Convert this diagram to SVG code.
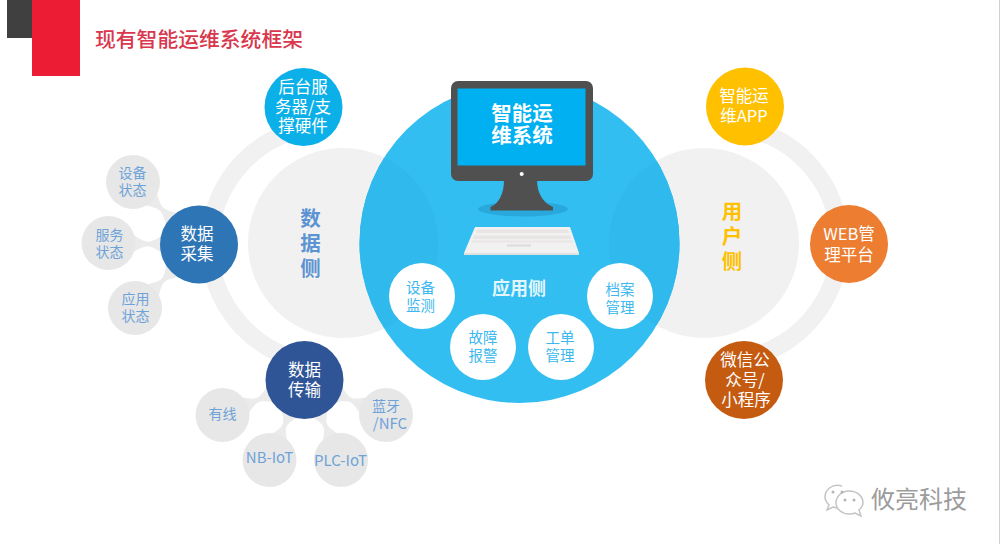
<svg xmlns="http://www.w3.org/2000/svg" width="1000" height="544" viewBox="0 0 1000 544">
<style>
text{font-family:"Noto Sans CJK SC","Liberation Sans",sans-serif;text-anchor:middle}
.big{font-size:16.5px;fill:#fff}
.small{font-size:14px;fill:#6FA3D8}
.latin{font-size:15px;fill:#6FA3D8}
.app{font-size:14.5px;fill:#3DB8EE}
.gray{fill:#E7E7E7}
.ring{fill:none;stroke:#F1F1F1;stroke-width:18}
.disc{fill:#F1F1F1}
.side{font-size:20.5px;font-weight:700}
.conn{fill:#EBEBEB}
</style>
<defs>
<clipPath id="mainClip"><circle cx="519.5" cy="243" r="160"/></clipPath>
</defs>
<rect width="1000" height="544" fill="#fff"/>
<rect x="999" y="0" width="1" height="544" fill="#D0D0D0"/>
<rect x="7" y="0" width="25" height="38" fill="#404040"/>
<rect x="32" y="0" width="48" height="76" fill="#EC1C35"/>
<text x="199" y="46.500" font-size="20.800" font-weight="500" fill="#D9374D">现有智能运维系统框架</text>

<path class="ring" d="M307.500 127.700A119 119 0 0 0 308 362"/>
<path class="ring" d="M744 128A117 117 0 0 1 744 358"/>

<g id="connectors">
<path class="conn" d="M144.200 205.100C161.600 209.300 161.600 209.300 166.700 226.600L179.100 213.600C161.600 209.300 161.600 209.300 156.600 192.100Z"/>
<path class="conn" d="M132.300 252.500C147.800 243.900 147.800 243.900 162.800 253.200L163.200 235.200C147.800 243.900 147.800 243.900 132.700 234.500Z"/>
<path class="conn" d="M158.400 297.600C162.800 280.700 162.800 280.700 179.700 276.600L167.100 263.800C162.800 280.700 162.800 280.700 145.800 284.800Z"/>
<path class="conn" d="M248.100 413.900C258 399.900 258 399.900 274.900 402.400L267.900 385.800C258 399.900 258 399.900 241.100 397.300Z"/>
<path class="conn" d="M287.300 441.600C284.600 425.500 284.600 425.500 298.300 416.600L281.900 409.400C284.600 425.500 284.600 425.500 270.900 434.400Z"/>
<path class="conn" d="M339.200 434.500C325.300 425.500 325.300 425.500 327.700 409.100L311.300 416.500C325.300 425.500 325.300 425.500 322.800 441.900Z"/>
<path class="conn" d="M367.500 397.200C350.800 399.900 350.800 399.900 341.200 385.900L334 402.500C350.800 399.900 350.800 399.900 360.300 413.800Z"/>
</g>

<g id="data-side">
<circle class="disc" cx="343" cy="243" r="95"/>
<text class="side" x="310.500" y="225.500" fill="#5B93D3">数</text>
<text class="side" x="310.500" y="250.500" fill="#5B93D3">据</text>
<text class="side" x="310.500" y="275.500" fill="#5B93D3">侧</text>
</g>
<g id="user-side">
<circle class="disc" cx="704" cy="243" r="95"/>
<text class="side" x="732" y="218.500" fill="#FFC000">用</text>
<text class="side" x="732" y="243.500" fill="#FFC000">户</text>
<text class="side" x="732" y="268.500" fill="#FFC000">侧</text>
</g>

<g id="main-circle">
<circle cx="519.500" cy="243" r="160" fill="#33BEF2"/>
<g clip-path="url(#mainClip)">
<circle cx="343" cy="243" r="95" fill="#2FB9EC"/>
<circle cx="704" cy="243" r="95" fill="#2FB9EC"/>
</g>
</g>

<g id="monitor">
<ellipse cx="523" cy="209" rx="45" ry="7.500" fill="#29A9DB"/>
<path d="M504 180C504 195 498 204 490.500 207V210.500H553V207C545 204 537 195 537 180Z" fill="#505050"/>
<rect x="451" y="81" width="142" height="100" rx="7" fill="#505050"/>
<rect x="457.500" y="88.500" width="128" height="77" fill="#00B0F0"/>
<circle cx="521.700" cy="174" r="2" fill="#fff"/>
<text x="522" y="120.500" font-size="20.500" font-weight="700" fill="#fff">智能运</text>
<text x="522" y="143" font-size="20.500" font-weight="700" fill="#fff">维系统</text>
</g>
<g id="keyboard">
<path d="M475 227H570L579 253H464Z" fill="#F1F1F1"/>
<rect x="464" y="253" width="115" height="2" fill="#E0E0E0"/>
<path d="M477 229.500H568L569 233H476Z" fill="#E9E5E5"/>
<path d="M474 235.500H570L571.500 239H473Z" fill="#E9E5E5"/>
<path d="M472 240.500H572L573 242.500H471.500Z" fill="#E9E5E5"/>
<rect x="507" y="244.500" width="24" height="2" fill="#DCDCDC"/>
</g>
<text id="app-label" x="519" y="294.500" font-size="18" font-weight="700" fill="#E4F6FD">应用侧</text>

<g id="app-1"><circle cx="422" cy="296" r="33" fill="#fff"/><text class="app" x="420.500" y="293">设备</text><text class="app" x="420.500" y="311">监测</text></g>
<g id="app-2"><circle cx="483" cy="347" r="33" fill="#fff"/><text class="app" x="483" y="343">故障</text><text class="app" x="483" y="361">报警</text></g>
<g id="app-3"><circle cx="561" cy="347" r="33" fill="#fff"/><text class="app" x="560" y="343">工单</text><text class="app" x="560" y="361">管理</text></g>
<g id="app-4"><circle cx="620" cy="296" r="33" fill="#fff"/><text class="app" x="620" y="295">档案</text><text class="app" x="620" y="313">管理</text></g>

<g id="backend"><circle cx="303.500" cy="107" r="39" fill="#0CB0E8"/><text class="big" x="303" y="92.500">后台服</text><text class="big" x="303" y="112.500">务器/支</text><text class="big" x="303" y="132">撑硬件</text></g>
<g id="collect"><circle cx="199" cy="244.500" r="39" fill="#2E75B6"/><text class="big" x="197" y="239.500">数据</text><text class="big" x="197" y="260">采集</text></g>
<g id="transfer"><circle cx="304.500" cy="380" r="39" fill="#2F5597"/><text class="big" x="304.500" y="376">数据</text><text class="big" x="304.500" y="396">传输</text></g>

<g id="s-device"><circle class="gray" cx="133" cy="182" r="27"/><text class="small" x="132.500" y="178">设备</text><text class="small" x="132.500" y="195">状态</text></g>
<g id="s-service"><circle class="gray" cx="108.500" cy="243" r="27"/><text class="small" x="109.500" y="240">服务</text><text class="small" x="109.500" y="257">状态</text></g>
<g id="s-app"><circle class="gray" cx="135" cy="308" r="27"/><text class="small" x="135.500" y="304">应用</text><text class="small" x="135.500" y="321">状态</text></g>
<g id="t-wired"><circle class="gray" cx="222.500" cy="415" r="27"/><text class="small" x="222.500" y="419">有线</text></g>
<g id="t-nb"><circle class="gray" cx="269.500" cy="460" r="27"/><text class="latin" x="269.500" y="463">NB-IoT</text></g>
<g id="t-plc"><circle class="gray" cx="341" cy="460" r="27"/><text class="latin" x="340.500" y="466">PLC-IoT</text></g>
<g id="t-bt"><circle class="gray" cx="386" cy="415" r="27"/><text class="small" x="386" y="411">蓝牙</text><text class="latin" x="390" y="429">/NFC</text></g>

<g id="u-app"><circle cx="745" cy="106.500" r="39" fill="#FFC000"/><text class="big" x="744" y="102">智能运</text><text class="big" x="744" y="122">维APP</text></g>
<g id="u-web"><circle cx="849" cy="244" r="39" fill="#ED7D31"/><text class="big" x="849" y="240">WEB管</text><text class="big" x="849" y="260.500">理平台</text></g>
<g id="u-wechat"><circle cx="744" cy="380" r="39" fill="#C55A11"/><text class="big" x="745" y="366">微信公</text><text class="big" x="745" y="386">众号/</text><text class="big" x="746" y="406">小程序</text></g>

<g id="watermark">
<path d="M842 486C832 483 825 490 825 497C825 501 827 503 829 505L827 510L833 507C835 508 838 508 840 508" fill="#fff" stroke="#C4C4C4" stroke-width="1.500"/>
<path d="M849 491C841 491 836 497 836 503C836 509 842 514 849 514C851 514 853 514 855 513L861 516L859 510C861 508 863 506 863 503C863 496 857 491 849 491Z" fill="#fff" stroke="#C4C4C4" stroke-width="1.500"/>
<circle cx="833" cy="492" r="1.500" fill="#B5B5B5"/><circle cx="842" cy="492" r="1.500" fill="#B5B5B5"/>
<circle cx="845" cy="500" r="1.500" fill="#B5B5B5"/><circle cx="854" cy="500" r="1.500" fill="#B5B5B5"/>
<text x="919" y="508" font-size="24" fill="#9C9C9C">攸亮科技</text>
</g>
</svg>
